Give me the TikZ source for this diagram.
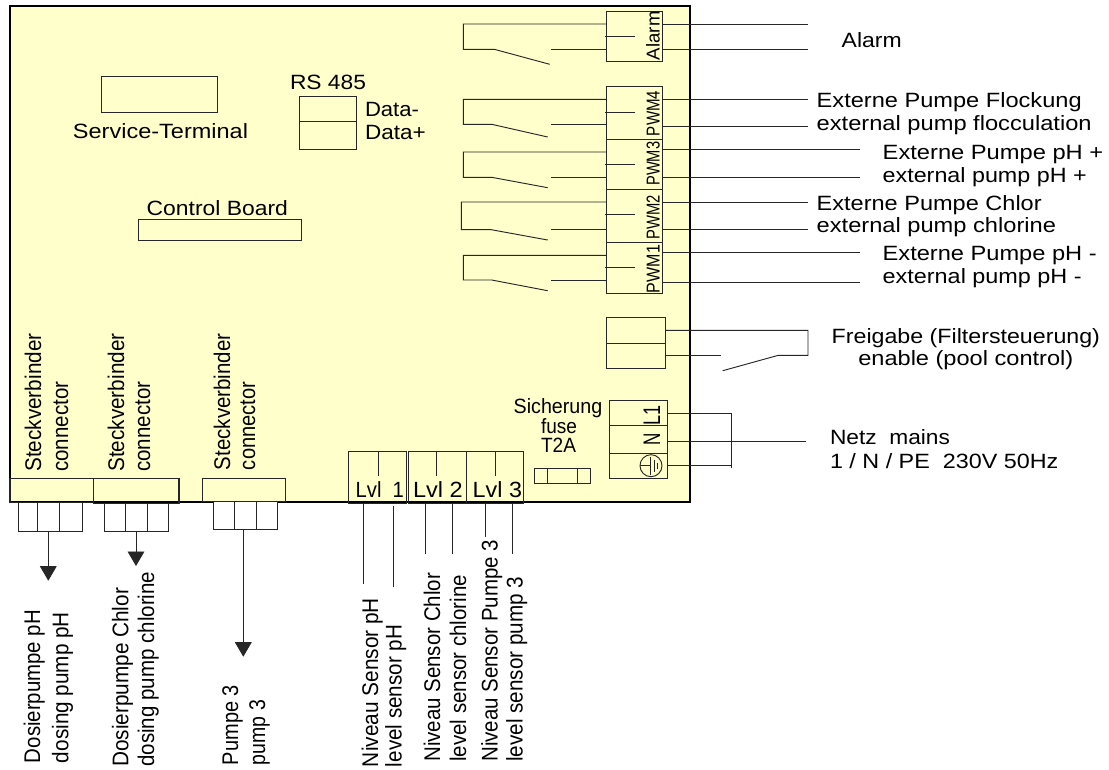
\documentclass[tikz,border=0pt]{standalone}
\usepackage{fontspec}
\usepackage{graphicx}
\setmainfont{Liberation Sans}
\usetikzlibrary{arrows.meta}
\definecolor{board}{HTML}{FFFFCC}
\tikzset{
  wire/.style={draw=black!85,line width=0.7pt},
  part/.style={draw=black!85,line width=0.7pt},
  lbl/.style={inner sep=0pt,outer sep=0pt,font=\fontsize{15.5}{15.5}\selectfont,text height=11.1pt,text depth=0pt,text=black},
  vlbl/.style={lbl,rotate=90,font=\fontsize{17}{17}\selectfont,text height=12.2pt},
  small/.style={font=\fontsize{14}{14}\selectfont,text height=10pt},
  big/.style={font=\fontsize{18}{18}\selectfont,text height=12.9pt},
  lvl/.style={font=\fontsize{16.5}{16.5}\selectfont,text height=11.8pt},
  pumparrow/.style={wire,-{Triangle[length=14.5pt*0.75,width=12.5pt]}}
}
% horizontal text: name, x-left, x-right, y-centre, text, options
\newcommand\hlab[6][]{%
  \pgfmathsetlengthmacro\wdA{(#4-#3)*0.75pt}%
  \node[lbl,#1] (#2) at ({(#3+#4)/2},#5) {\resizebox{\wdA}{\height}{#6}};}
% vertical text: name, x-centre, y-bottom, y-top, text, options
\newcommand\vlab[6][]{%
  \pgfmathsetlengthmacro\wdA{(#4-#5)*0.75pt}%
  \node[vlbl,#1] (#2) at (#3,{(#4+#5)/2}) {\resizebox{\wdA}{\height}{#6}};}
% relay contact: x of left leg, top y, bottom y, hinge x, diag end x,y, tick y
\newcommand\relay[7]{%
  \draw[wire] (606,#2) -- (#1,#2) -- (#1,#3) -- (#4,#3) -- (#5,#6);
  \draw[wire] (551,#3) -- (606,#3);
  \draw[wire] (605,#7) -- (635,#7);}
\begin{document}
\begin{tikzpicture}[x=0.75pt,y=-0.75pt]
\useasboundingbox (0,0) rectangle (1109,769);
\fill[white] (0,0) rectangle (1109,769);
% board
\draw[fill=board,draw=black,line width=0.8pt] (10,6) rectangle (690,502);
% service terminal, RS485, control board
\draw[part] (101.7,76.7) rectangle (217.7,112.3);
\hlab{tService}{73}{248}{131}{Service-Terminal}
\hlab{tRS}{290}{366}{81.7}{RS 485}
\draw[part] (299,96.7) rectangle (356.7,149.3);
\draw[part] (299,121.7) -- (356.7,121.7);
\hlab{tDm}{365}{419}{109}{Data-}
\hlab{tDp}{365}{425.7}{131.7}{Data+}
\hlab{tControl}{146.7}{288}{207.7}{Control Board}
\draw[part] (138.3,219.7) rectangle (301,240);
% terminal blocks, top right
\draw[part] (606.7,11.3) rectangle (662.7,61.3);
\draw[part] (606.7,86.7) rectangle (662.7,293);
\foreach \yy in {139.3,189.7,242.3} \draw[part] (606.7,\yy) -- (662.7,\yy);
\vlab[small]{tAlarmT}{653}{60}{11.5}{Alarm}
\vlab[small]{tP4}{653}{136}{90.7}{PWM4}
\vlab[small]{tP3}{653}{185.7}{141.7}{PWM3}
\vlab[small]{tP2}{653}{239.3}{195}{PWM2}
\vlab[small]{tP1}{653}{293}{245}{PWM1}
% relay contacts
\relay{463.3}{24}{49.3}{494.3}{549.7}{64.3}{36}
\relay{463.3}{99.3}{124.3}{491.7}{547.7}{137}{112}
\relay{463.3}{152}{177.3}{491.7}{547.7}{187.7}{164.3}
\relay{461.3}{202}{229.7}{491.3}{547.7}{240}{214.7}
\relay{463.3}{255.3}{280}{491.7}{547.7}{290.7}{267.7}
% outgoing wires, top right
\foreach \yy/\xe in {24/808,49.3/808,99.3/808,126.7/808,149.7/860,177.3/860,202/808,229.7/808,252.3/860,282.7/860}
  \draw[wire] (663,\yy) -- (\xe,\yy);
\hlab{tAlarm}{841.7}{901.7}{40}{Alarm}
\hlab{tF1}{816.7}{1081.7}{100}{Externe Pumpe Flockung}
\hlab{tF2}{816.7}{1091.7}{122.7}{external pump flocculation}
\hlab{tPp1}{882.7}{1103.3}{151.7}{Externe Pumpe pH +}
\hlab{tPp2}{882.7}{1086.7}{175}{external pump pH +}
\hlab{tC1}{816.7}{1041.7}{202.7}{Externe Pumpe Chlor}
\hlab{tC2}{816.7}{1056}{225}{external pump chlorine}
\hlab{tPm1}{882.7}{1096.7}{252.7}{Externe Pumpe pH -}
\hlab{tPm2}{882.7}{1081.7}{276}{external pump pH -}
% enable
\draw[part] (606.7,317.7) rectangle (665,368.3);
\draw[part] (606.7,343.3) -- (665,343.3);
\draw[wire] (665,330.3) -- (808,330.3) -- (808,355.3) -- (778.3,355.3) -- (722.7,370.7);
\draw[wire] (665,355.3) -- (720.7,355.3);
\hlab{tFr1}{831.7}{1100}{336}{Freigabe (Filtersteuerung)}
\hlab{tFr2}{858.3}{1073.3}{358.3}{enable (pool control)}
% mains
\draw[part] (609,400.7) rectangle (667.3,478.3);
\draw[part] (609,425.7) -- (667.3,425.7);
\draw[part] (609,453.3) -- (667.3,453.3);
\vlab[big]{tL}{651.5}{425}{405}{L1}
\vlab[big]{tN}{651.5}{445}{432.7}{N}
\draw[part] (651,465.7) circle[radius=11];
\draw[part] (640,465.7) -- (650.7,465.7);
\draw[part] (650.7,457) -- (650.7,474.5);
\draw[part] (654,460) -- (654,471.5);
\draw[part] (657,463) -- (657,468.5);
\draw[wire] (667.3,413.3) -- (731.3,413.3) -- (731.3,468.3);
\draw[wire] (667.3,441) -- (806,441);
\draw[wire] (667.3,465.7) -- (731.3,465.7);
\hlab{tNetz}{830}{950}{436.7}{Netz\ \ mains}
\hlab{tNetz2}{830}{1058.3}{460.7}{1 / N / PE\ \ 230V 50Hz}
% fuse
\hlab{tSich}{513.7}{602.3}{406}{Sicherung}
\hlab{tFuse}{541}{577}{426}{fuse}
\hlab{tT2A}{541}{576}{445}{T2A}
\draw[part] (534,468.3) rectangle (590,483.7);
\draw[part] (547,468.3) -- (547,483.7);
\draw[part] (577.3,468.3) -- (577.3,483.7);
% level terminals
\draw[part] (348,451) rectangle (406,503.7);
\draw[part] (408.3,451) rectangle (466,503.7);
\draw[part] (466,451) rectangle (523.3,503.7);
\foreach \xx in {378,436,495.7} \draw[wire] (\xx,451) -- (\xx,475.7);
\hlab[lvl]{tLv1}{355.7}{404}{489.3}{Lvl\ \ 1}
\hlab[lvl]{tLv2}{413}{462.7}{489.3}{Lvl 2}
\hlab[lvl]{tLv3}{472.7}{522}{489.3}{Lvl 3}
\draw[wire] (363,504) -- (363,584.3);
\draw[wire] (393,506) -- (393,586.7);
\draw[wire] (425,504) -- (425,554);
\draw[wire] (452.7,504) -- (452.7,554);
\draw[wire] (485,504) -- (485,536.7);
\draw[wire] (512.7,504) -- (512.7,554);
\vlab{tN1}{370}{767}{598}{Niveau Sensor pH}
\vlab{tN2}{393.6}{767}{625}{level sensor pH}
\vlab{tN3}{432}{761.7}{573}{Niveau Sensor Chlor}
\vlab{tN4}{458}{761.7}{575}{level sensor chlorine}
\vlab{tN5}{489.6}{761.7}{540}{Niveau Sensor Pumpe 3}
\vlab{tN6}{514.6}{761.7}{576.7}{level sensor pump 3}
% plug connectors
\draw[part,line width=1pt] (10,478.3) rectangle (93.3,502.7);
\draw[part,line width=1pt] (93.3,478.3) rectangle (179,503.3);
\draw[part] (202.3,478.3) rectangle (285.7,501);
\draw[part,fill=white] (18.7,502.7) rectangle (82.7,531.3);
\draw[part] (37.7,502.7) -- (37.7,531.3);
\draw[part] (59.3,502.7) -- (59.3,531.3);
\draw[part,fill=white] (104,503.3) rectangle (168.3,531.3);
\draw[part] (125.7,503.3) -- (125.7,531.3);
\draw[part] (147,503.3) -- (147,531.3);
\draw[part,fill=white] (213.3,501) rectangle (277.3,529);
\draw[part] (234.7,501) -- (234.7,529);
\draw[part] (256.3,501) -- (256.3,529);
\draw[pumparrow] (48.3,531.3) -- (48.3,580.7);
\draw[pumparrow] (136,531.3) -- (136,566);
\draw[pumparrow] (243.3,529) -- (243.3,656.7);
\vlab{tS1}{33}{471.7}{333.5}{Steckverbinder}
\vlab{tS2}{60}{471.7}{381.7}{connector}
\vlab{tS3}{115.9}{471.7}{333.5}{Steckverbinder}
\vlab{tS4}{141.9}{471.7}{381.7}{connector}
\vlab{tS5}{221.9}{470}{333.5}{Steckverbinder}
\vlab{tS6}{247}{470}{381.7}{connector}
\vlab{tD1}{32}{763}{610}{Dosierpumpe pH}
\vlab{tD2}{60.2}{763}{612}{dosing pump pH}
\vlab{tD3}{120.2}{766.7}{588}{Dosierpumpe Chlor}
\vlab{tD4}{146}{766.7}{571.7}{dosing pump chlorine}
\vlab{tPu1}{230}{765}{685}{Pumpe 3}
\vlab{tPu2}{257}{765}{700}{pump 3}
\end{tikzpicture}
\end{document}
